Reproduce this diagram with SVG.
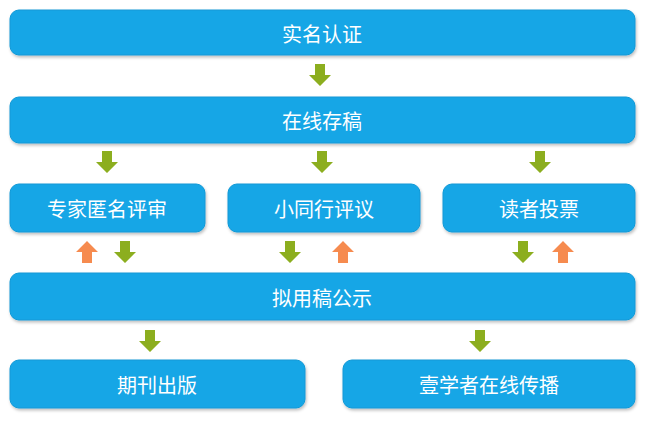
<svg xmlns="http://www.w3.org/2000/svg" width="645" height="423" viewBox="0 0 645 423">
<defs>
<style>
.b{fill:#16a6e6;stroke:#1098d6;stroke-width:1}
.t{fill:#fff;font-family:"Noto Sans CJK SC","Noto Sans",sans-serif;font-size:20px;text-anchor:middle;dominant-baseline:central}
.g{fill:#8cae1f}
.o{fill:#f68b4f}
</style>
<filter id="s" x="-5%" y="-20%" width="110%" height="150%"><feDropShadow dx="1" dy="2" stdDeviation="1.5" flood-color="#000" flood-opacity="0.25"/></filter>
<path id="d" d="M-5,-11 H5 V0 H11 L0,11 L-11,0 H-5 Z"/>
<path id="u" d="M-5,11 H5 V0 H11 L0,-11 L-11,0 H-5 Z"/>
</defs>
<rect width="645" height="423" fill="#fff"/>
<g id="n1"><rect class="b" filter="url(#s)" x="10" y="10" width="625" height="45" rx="9"/><text class="t" x="322" y="33">实名认证</text></g>
<g id="n2"><rect class="b" filter="url(#s)" x="10" y="97" width="625" height="46" rx="9"/><text class="t" x="322" y="120">在线存稿</text></g>
<g id="n3"><rect class="b" filter="url(#s)" x="10" y="184" width="195" height="48" rx="9"/><text class="t" x="107" y="208">专家匿名评审</text></g>
<g id="n4"><rect class="b" filter="url(#s)" x="228" y="184" width="192" height="48" rx="9"/><text class="t" x="324" y="208">小同行评议</text></g>
<g id="n5"><rect class="b" filter="url(#s)" x="443" y="184" width="192" height="48" rx="9"/><text class="t" x="539" y="208">读者投票</text></g>
<g id="n6"><rect class="b" filter="url(#s)" x="10" y="273" width="625" height="47" rx="9"/><text class="t" x="322" y="297">拟用稿公示</text></g>
<g id="n7"><rect class="b" filter="url(#s)" x="10" y="360" width="295" height="48" rx="9"/><text class="t" x="157" y="384">期刊出版</text></g>
<g id="n8"><rect class="b" filter="url(#s)" x="343" y="360" width="292" height="48" rx="9"/><text class="t" x="489" y="384">壹学者在线传播</text></g>
<g id="connectors">
<use href="#d" class="g" x="320" y="75"/>
<use href="#d" class="g" x="107" y="162"/>
<use href="#d" class="g" x="322" y="162"/>
<use href="#d" class="g" x="540" y="162"/>
<use href="#u" class="o" x="87" y="252"/>
<use href="#d" class="g" x="125" y="252"/>
<use href="#d" class="g" x="290" y="252"/>
<use href="#u" class="o" x="343" y="252"/>
<use href="#d" class="g" x="523" y="252"/>
<use href="#u" class="o" x="563" y="252"/>
<use href="#d" class="g" x="150" y="341"/>
<use href="#d" class="g" x="480" y="341"/>
</g>
</svg>
